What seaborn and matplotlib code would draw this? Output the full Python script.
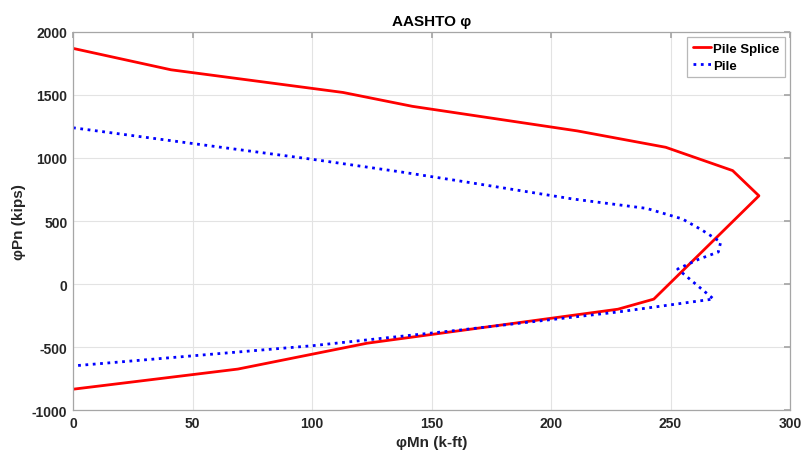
import matplotlib
matplotlib.use("Agg")
import matplotlib.pyplot as plt
import seaborn as sns
import pandas as pd

# Data
splice_mn = [0, 41, 113, 142, 211, 248, 276, 287, 243, 228, 123, 69, 0]
splice_pn = [1870, 1700, 1520, 1410, 1215, 1085, 900, 700, -120, -200, -470, -675, -835]

pile_mn = [0, 50, 100, 137, 162, 209, 240, 255, 263, 271, 270, 262, 253, 268, 228, 162, 100, 0]
pile_pn = [1240, 1115, 990, 890, 817, 675, 600, 516, 430, 333, 254, 198, 119, -119, -222, -365, -490, -650]

x_ticks = [0, 50, 100, 150, 200, 250, 300]
y_ticks = [-1000, -500, 0, 500, 1000, 1500, 2000]

sns.set_theme(style="white")
plt.rcParams['font.family'] = ['Liberation Sans', 'DejaVu Sans']
plt.rcParams['font.weight'] = 'bold'

fig = plt.figure(figsize=(8.04, 4.64), dpi=100)
ax = fig.add_axes([0.0908, 0.1142, 0.8918, 0.8147])

df_s = pd.DataFrame({"Mn": splice_mn, "Pn": splice_pn})
df_p = pd.DataFrame({"Mn": pile_mn, "Pn": pile_pn})

sns.lineplot(data=df_s, x="Mn", y="Pn", sort=False, estimator=None, ax=ax,
             color="#ff0000", linewidth=2, label="Pile Splice")
sns.lineplot(data=df_p, x="Mn", y="Pn", sort=False, estimator=None, ax=ax,
             color="#0000ff", linewidth=2, linestyle=":", label="Pile")

ax.set_xlim(0, 300)
ax.set_ylim(-1000, 2000)
ax.set_xticks(x_ticks)
ax.set_yticks(y_ticks)
ax.set_xticklabels([str(t) for t in x_ticks])
ax.set_yticklabels([str(t) for t in y_ticks])

ax.grid(True, color="#e3e3e3", linewidth=0.8)
ax.set_axisbelow(True)
for sp in ax.spines.values():
    sp.set_visible(True)
    sp.set_color("#a6a6a6")
    sp.set_linewidth(0.9)
ax.tick_params(direction="in", length=4, color="#a6a6a6", top=True, right=True,
               labelsize=10, labelcolor="#262626", pad=4)
for lab in ax.get_xticklabels() + ax.get_yticklabels():
    lab.set_fontweight("bold")

ax.set_xlabel("φMn (k-ft)", fontsize=11, fontweight="bold", color="#262626", labelpad=4)
ax.set_ylabel("φPn (kips)", fontsize=11, fontweight="bold", color="#262626", labelpad=4)
ax.set_title("AASHTO φ", fontsize=11, fontweight="bold", color="#000000", pad=5)

leg = ax.legend(loc="upper right", fontsize=9.5, frameon=True, fancybox=False,
                edgecolor="#a6a6a6", borderpad=0.4, labelspacing=0.35,
                handlelength=1.4, handletextpad=0.15, borderaxespad=0.4)
leg.get_frame().set_linewidth(0.9)
for t in leg.get_texts():
    t.set_fontweight("bold")
    t.set_color("#000000")

fig.savefig("out.png", dpi=100, facecolor="white")
